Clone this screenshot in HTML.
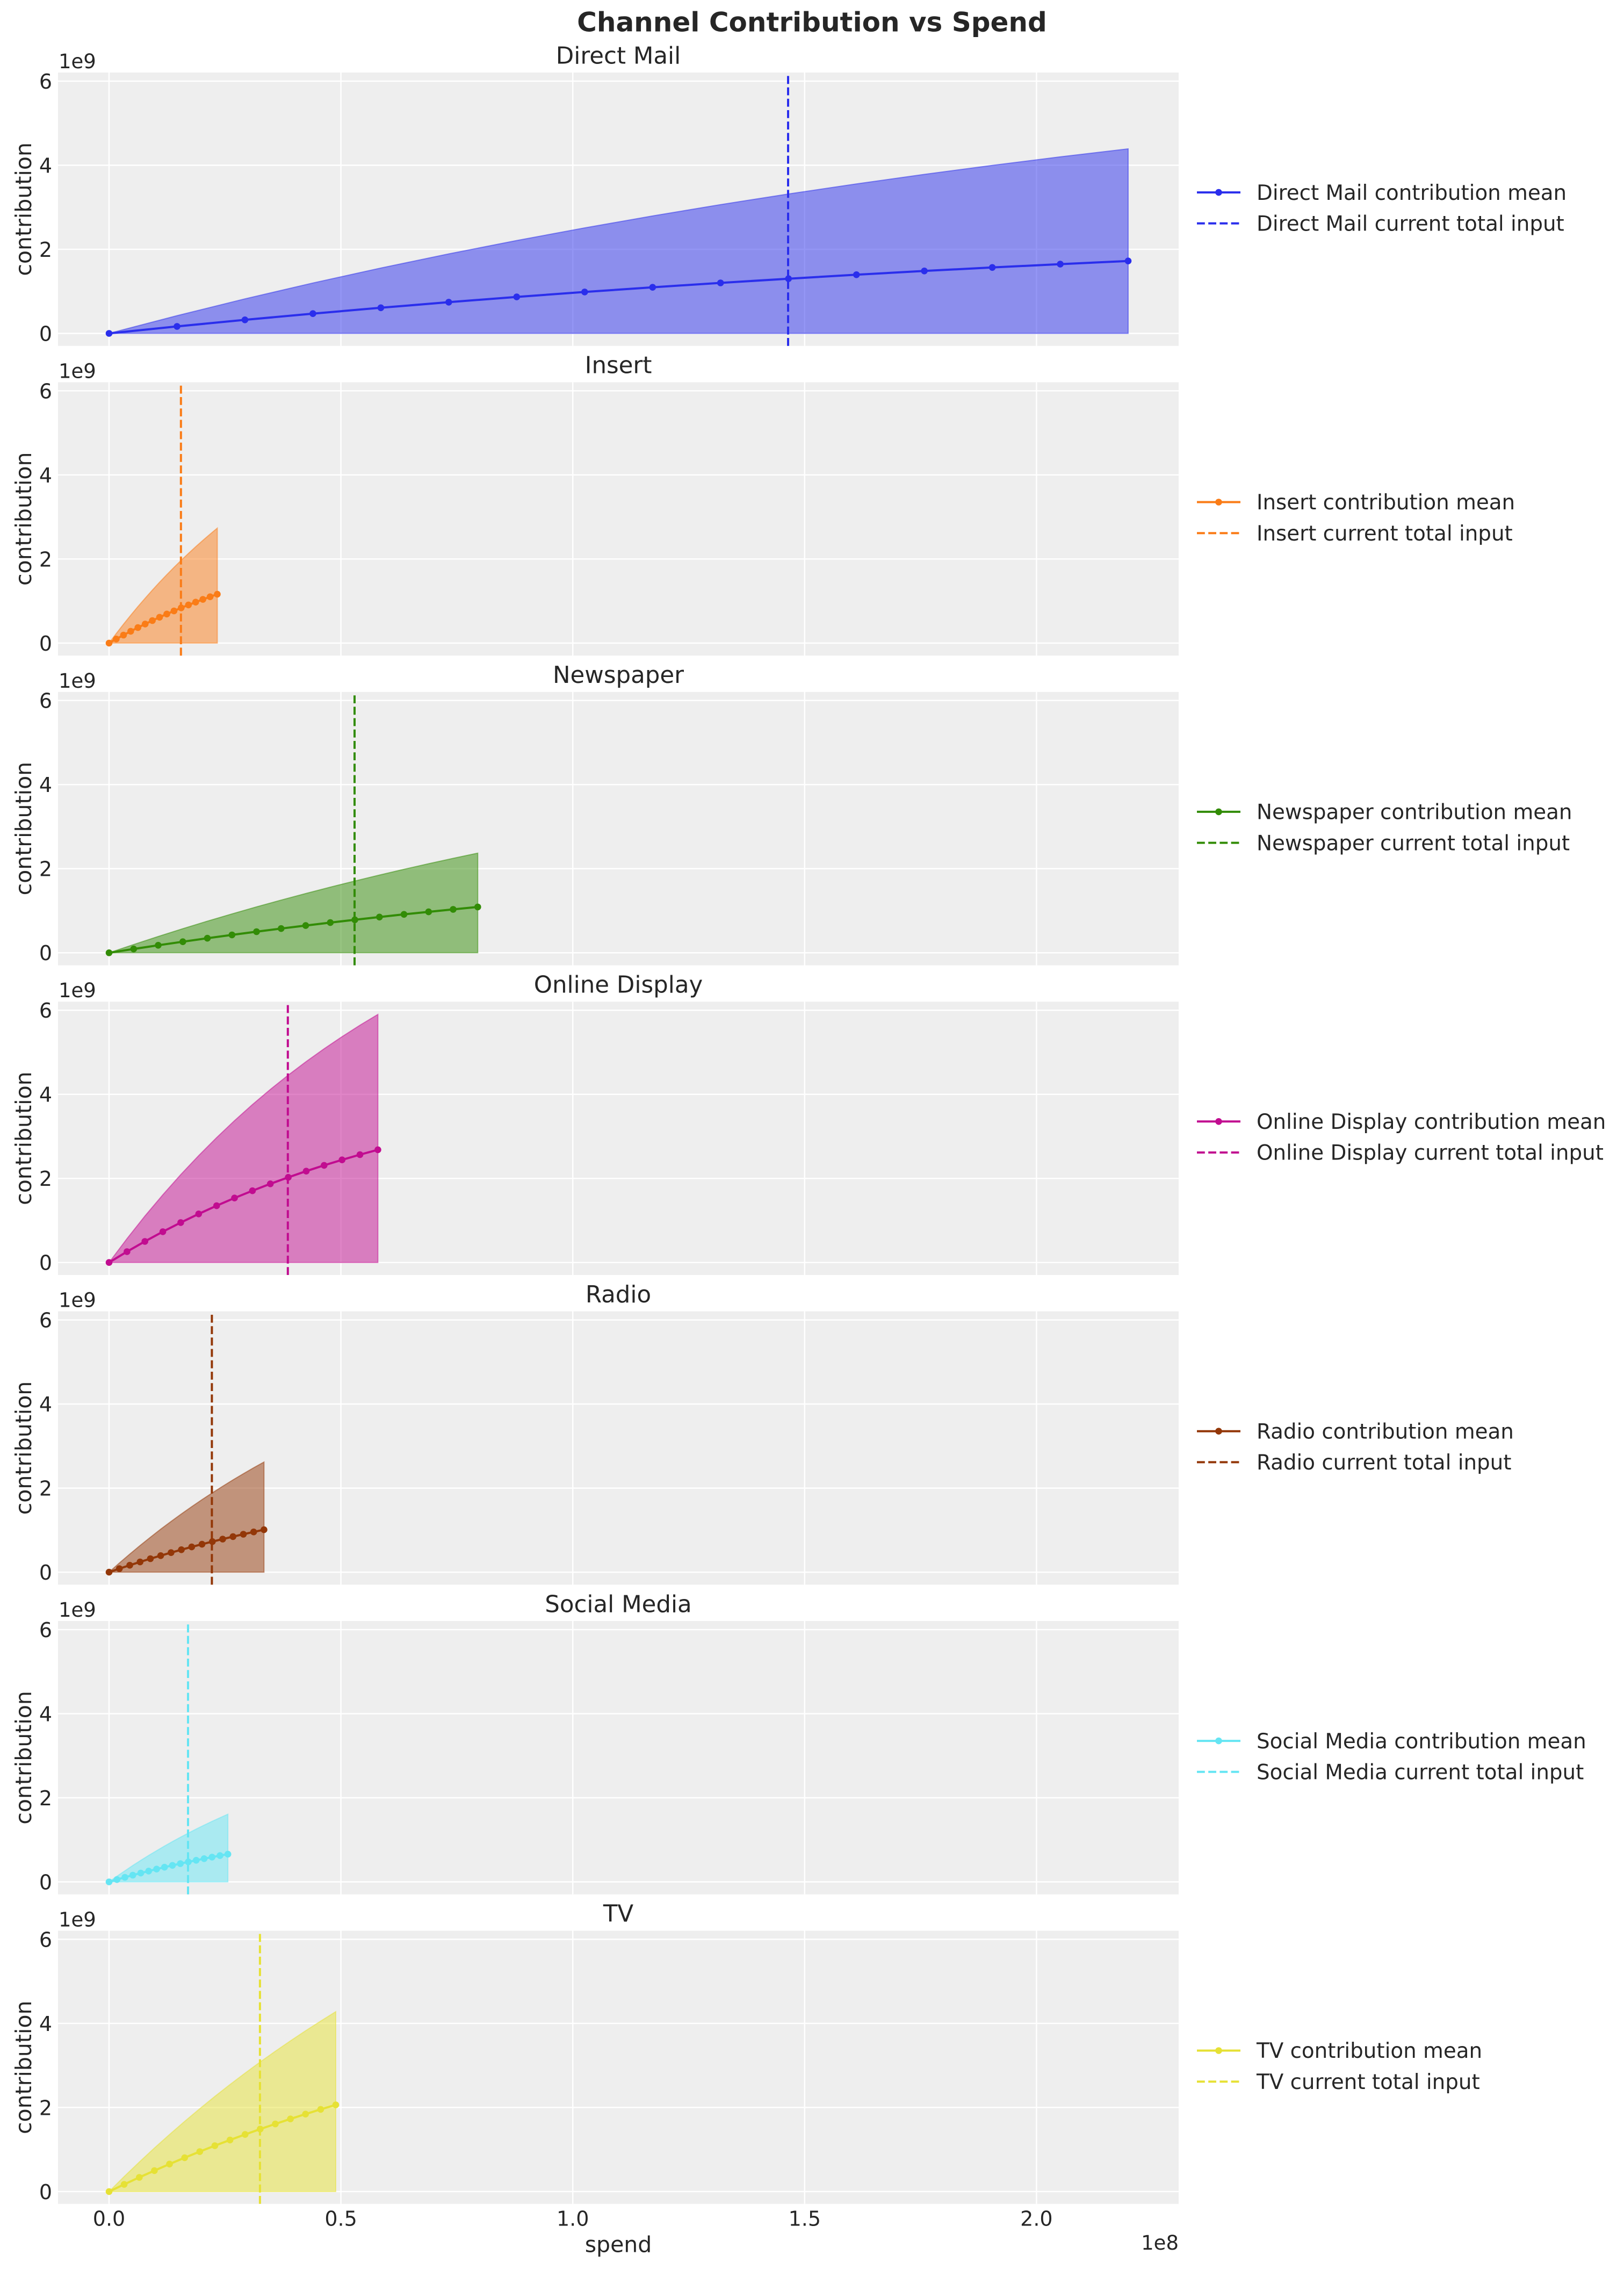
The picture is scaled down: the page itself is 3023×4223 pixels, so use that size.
<!DOCTYPE html>
<html><head><meta charset="utf-8"><style>
html,body{margin:0;padding:0;background:#fff;}
svg{display:block;}
text{font-family:"DejaVu Sans","Liberation Sans",sans-serif;fill:#262626;}
.tk{font-size:38px;}
.yt{font-size:38px;text-anchor:end;}
.xt{font-size:38px;text-anchor:middle;}
.off{font-size:37px;}
.st{font-size:43.5px;text-anchor:middle;}
.yl{font-size:41px;text-anchor:middle;}
.lg{font-size:38.8px;}
.grid line{stroke:#fff;stroke-width:2.5;}
</style></head><body>
<svg width="3023" height="4223" viewBox="0 0 3023 4223" xmlns="http://www.w3.org/2000/svg">
<rect x="0" y="0" width="3023" height="4223" fill="#fff"/>
<text x="1511.5" y="58.3" style="font-size:50px;font-weight:bold;text-anchor:middle;">Channel Contribution vs Spend</text>

<!-- ============ Axes 1: Direct Mail ============ -->
<rect x="108" y="135" width="2086" height="508.8" fill="#eeeeee"/>
<g class="grid">
<line x1="108" x2="2194" y1="620.5" y2="620.5"/><line x1="108" x2="2194" y1="464" y2="464"/><line x1="108" x2="2194" y1="307.5" y2="307.5"/><line x1="108" x2="2194" y1="151" y2="151"/>
<line y1="135" y2="643.8" x1="203" x2="203"/><line y1="135" y2="643.8" x1="634.6" x2="634.6"/><line y1="135" y2="643.8" x1="1066.2" x2="1066.2"/><line y1="135" y2="643.8" x1="1497.8" x2="1497.8"/><line y1="135" y2="643.8" x1="1929.4" x2="1929.4"/>
</g>
<polygon fill="#2a2eec" fill-opacity="0.5" stroke="#2a2eec" stroke-opacity="0.5" stroke-width="2" points="203,620.5 329.5,587.5 455.9,556.2 582.4,526.7 708.9,498.8 835.3,472.5 961.8,447.6 1088.3,424.1 1214.8,401.9 1341.2,380.8 1467.7,361.0 1594.2,342.2 1720.6,324.5 1847.1,307.8 1973.6,291.9 2100,277.0 2100,620.5"/>
<line x1="1467" x2="1467" y1="643.8" y2="135" stroke="#2a2eec" stroke-width="4" stroke-dasharray="14.8 6.4"/>
<polyline fill="none" stroke="#2a2eec" stroke-width="4" points="203,620.5 329.5,607.5 455.9,595.3 582.4,583.7 708.9,572.8 835.3,562.4 961.8,552.6 1088.3,543.4 1214.8,534.7 1341.2,526.5 1467.7,518.7 1594.2,511.3 1720.6,504.3 1847.1,497.8 1973.6,491.6 2100,485.7"/>
<g fill="#2a2eec"><circle cx="203" cy="620.5" r="6.3"/><circle cx="329.5" cy="607.5" r="6.3"/><circle cx="455.9" cy="595.3" r="6.3"/><circle cx="582.4" cy="583.7" r="6.3"/><circle cx="708.9" cy="572.8" r="6.3"/><circle cx="835.3" cy="562.4" r="6.3"/><circle cx="961.8" cy="552.6" r="6.3"/><circle cx="1088.3" cy="543.4" r="6.3"/><circle cx="1214.8" cy="534.7" r="6.3"/><circle cx="1341.2" cy="526.5" r="6.3"/><circle cx="1467.7" cy="518.7" r="6.3"/><circle cx="1594.2" cy="511.3" r="6.3"/><circle cx="1720.6" cy="504.3" r="6.3"/><circle cx="1847.1" cy="497.8" r="6.3"/><circle cx="1973.6" cy="491.6" r="6.3"/><circle cx="2100" cy="485.7" r="6.3"/></g>
<text class="yt" x="97" y="634.4">0</text><text class="yt" x="97" y="477.9">2</text><text class="yt" x="97" y="321.4">4</text><text class="yt" x="97" y="164.9">6</text>
<text class="off" x="109" y="127">1e9</text>
<text class="st" x="1151" y="118.3">Direct Mail</text>
<text class="yl" transform="translate(58,389.4) rotate(-90)">contribution</text>
<line x1="2228" x2="2309" y1="358.1" y2="358.1" stroke="#2a2eec" stroke-width="4"/><circle cx="2268.5" cy="358.1" r="6.3" fill="#2a2eec"/>
<text class="lg" x="2339" y="371.8">Direct Mail contribution mean</text>
<line x1="2228" x2="2309" y1="415.8" y2="415.8" stroke="#2a2eec" stroke-width="4" stroke-dasharray="14.8 6.4"/>
<text class="lg" x="2339" y="429.5">Direct Mail current total input</text>

<!-- ============ Axes 2: Insert ============ -->
<rect x="108" y="711.4" width="2086" height="508.8" fill="#eeeeee"/>
<g class="grid">
<line x1="108" x2="2194" y1="1196.9" y2="1196.9"/><line x1="108" x2="2194" y1="1040.4" y2="1040.4"/><line x1="108" x2="2194" y1="883.9" y2="883.9"/><line x1="108" x2="2194" y1="727.4" y2="727.4"/>
<line y1="711.4" y2="1220.2" x1="203" x2="203"/><line y1="711.4" y2="1220.2" x1="634.6" x2="634.6"/><line y1="711.4" y2="1220.2" x1="1066.2" x2="1066.2"/><line y1="711.4" y2="1220.2" x1="1497.8" x2="1497.8"/><line y1="711.4" y2="1220.2" x1="1929.4" x2="1929.4"/>
</g>
<polygon fill="#fa7c17" fill-opacity="0.5" stroke="#fa7c17" stroke-opacity="0.5" stroke-width="2" points="203,1196.9 216.4,1179.1 229.9,1161.8 243.3,1145.1 256.7,1129.0 270.2,1113.4 283.6,1098.3 297.0,1083.7 310.5,1069.6 323.9,1055.9 337.3,1042.7 350.8,1030.0 364.2,1017.6 377.6,1005.7 391.1,994.1 404.5,982.9 404.5,1196.9"/>
<line x1="336.8" x2="336.8" y1="1220.2" y2="711.4" stroke="#fa7c17" stroke-width="4" stroke-dasharray="14.8 6.4"/>
<polyline fill="none" stroke="#fa7c17" stroke-width="4" points="203,1196.9 216.4,1189.3 229.9,1182.0 243.3,1174.9 256.7,1168.0 270.2,1161.4 283.6,1155.0 297.0,1148.8 310.5,1142.8 323.9,1137.0 337.3,1131.3 350.8,1125.9 364.2,1120.7 377.6,1115.6 391.1,1110.7 404.5,1105.9"/>
<g fill="#fa7c17"><circle cx="203" cy="1196.9" r="6.3"/><circle cx="216.4" cy="1189.3" r="6.3"/><circle cx="229.9" cy="1182.0" r="6.3"/><circle cx="243.3" cy="1174.9" r="6.3"/><circle cx="256.7" cy="1168.0" r="6.3"/><circle cx="270.2" cy="1161.4" r="6.3"/><circle cx="283.6" cy="1155.0" r="6.3"/><circle cx="297.0" cy="1148.8" r="6.3"/><circle cx="310.5" cy="1142.8" r="6.3"/><circle cx="323.9" cy="1137.0" r="6.3"/><circle cx="337.3" cy="1131.3" r="6.3"/><circle cx="350.8" cy="1125.9" r="6.3"/><circle cx="364.2" cy="1120.7" r="6.3"/><circle cx="377.6" cy="1115.6" r="6.3"/><circle cx="391.1" cy="1110.7" r="6.3"/><circle cx="404.5" cy="1105.9" r="6.3"/></g>
<text class="yt" x="97" y="1210.8">0</text><text class="yt" x="97" y="1054.3">2</text><text class="yt" x="97" y="897.8">4</text><text class="yt" x="97" y="741.3">6</text>
<text class="off" x="109" y="703.4">1e9</text>
<text class="st" x="1151" y="694.7">Insert</text>
<text class="yl" transform="translate(58,965.8) rotate(-90)">contribution</text>
<line x1="2228" x2="2309" y1="934.5" y2="934.5" stroke="#fa7c17" stroke-width="4"/><circle cx="2268.5" cy="934.5" r="6.3" fill="#fa7c17"/>
<text class="lg" x="2339" y="948.2">Insert contribution mean</text>
<line x1="2228" x2="2309" y1="992.2" y2="992.2" stroke="#fa7c17" stroke-width="4" stroke-dasharray="14.8 6.4"/>
<text class="lg" x="2339" y="1005.9">Insert current total input</text>

<!-- ============ Axes 3: Newspaper ============ -->
<rect x="108" y="1287.8" width="2086" height="508.8" fill="#eeeeee"/>
<g class="grid">
<line x1="108" x2="2194" y1="1773.3" y2="1773.3"/><line x1="108" x2="2194" y1="1616.8" y2="1616.8"/><line x1="108" x2="2194" y1="1460.3" y2="1460.3"/><line x1="108" x2="2194" y1="1303.8" y2="1303.8"/>
<line y1="1287.8" y2="1796.6" x1="203" x2="203"/><line y1="1287.8" y2="1796.6" x1="634.6" x2="634.6"/><line y1="1287.8" y2="1796.6" x1="1066.2" x2="1066.2"/><line y1="1287.8" y2="1796.6" x1="1497.8" x2="1497.8"/><line y1="1287.8" y2="1796.6" x1="1929.4" x2="1929.4"/>
</g>
<polygon fill="#328c06" fill-opacity="0.5" stroke="#328c06" stroke-opacity="0.5" stroke-width="2" points="203,1773.3 248.8,1757.9 294.5,1742.9 340.3,1728.4 386.0,1714.4 431.8,1700.9 477.5,1687.8 523.3,1675.2 569.0,1663.0 614.8,1651.1 660.5,1639.7 706.3,1628.6 752.0,1617.9 797.8,1607.5 843.5,1597.5 889.3,1587.8 889.3,1773.3"/>
<line x1="660" x2="660" y1="1796.6" y2="1287.8" stroke="#328c06" stroke-width="4" stroke-dasharray="14.8 6.4"/>
<polyline fill="none" stroke="#328c06" stroke-width="4" points="203,1773.3 248.8,1766.2 294.5,1759.3 340.3,1752.7 386.0,1746.2 431.8,1740.0 477.5,1734.0 523.3,1728.2 569.0,1722.6 614.8,1717.1 660.5,1711.9 706.3,1706.8 752.0,1701.8 797.8,1697.1 843.5,1692.5 889.3,1688.0"/>
<g fill="#328c06"><circle cx="203" cy="1773.3" r="6.3"/><circle cx="248.8" cy="1766.2" r="6.3"/><circle cx="294.5" cy="1759.3" r="6.3"/><circle cx="340.3" cy="1752.7" r="6.3"/><circle cx="386.0" cy="1746.2" r="6.3"/><circle cx="431.8" cy="1740.0" r="6.3"/><circle cx="477.5" cy="1734.0" r="6.3"/><circle cx="523.3" cy="1728.2" r="6.3"/><circle cx="569.0" cy="1722.6" r="6.3"/><circle cx="614.8" cy="1717.1" r="6.3"/><circle cx="660.5" cy="1711.9" r="6.3"/><circle cx="706.3" cy="1706.8" r="6.3"/><circle cx="752.0" cy="1701.8" r="6.3"/><circle cx="797.8" cy="1697.1" r="6.3"/><circle cx="843.5" cy="1692.5" r="6.3"/><circle cx="889.3" cy="1688.0" r="6.3"/></g>
<text class="yt" x="97" y="1787.2">0</text><text class="yt" x="97" y="1630.7">2</text><text class="yt" x="97" y="1474.2">4</text><text class="yt" x="97" y="1317.7">6</text>
<text class="off" x="109" y="1279.8">1e9</text>
<text class="st" x="1151" y="1271.1">Newspaper</text>
<text class="yl" transform="translate(58,1542.2) rotate(-90)">contribution</text>
<line x1="2228" x2="2309" y1="1510.9" y2="1510.9" stroke="#328c06" stroke-width="4"/><circle cx="2268.5" cy="1510.9" r="6.3" fill="#328c06"/>
<text class="lg" x="2339" y="1524.6">Newspaper contribution mean</text>
<line x1="2228" x2="2309" y1="1568.6" y2="1568.6" stroke="#328c06" stroke-width="4" stroke-dasharray="14.8 6.4"/>
<text class="lg" x="2339" y="1582.3">Newspaper current total input</text>

<!-- ============ Axes 4: Online Display ============ -->
<rect x="108" y="1864.2" width="2086" height="508.8" fill="#eeeeee"/>
<g class="grid">
<line x1="108" x2="2194" y1="2349.7" y2="2349.7"/><line x1="108" x2="2194" y1="2193.2" y2="2193.2"/><line x1="108" x2="2194" y1="2036.7" y2="2036.7"/><line x1="108" x2="2194" y1="1880.2" y2="1880.2"/>
<line y1="1864.2" y2="2373" x1="203" x2="203"/><line y1="1864.2" y2="2373" x1="634.6" x2="634.6"/><line y1="1864.2" y2="2373" x1="1066.2" x2="1066.2"/><line y1="1864.2" y2="2373" x1="1497.8" x2="1497.8"/><line y1="1864.2" y2="2373" x1="1929.4" x2="1929.4"/>
</g>
<polygon fill="#c10c90" fill-opacity="0.5" stroke="#c10c90" stroke-opacity="0.5" stroke-width="2" points="203,2349.7 236.4,2305.3 269.7,2263.3 303.1,2223.7 336.4,2186.2 369.8,2150.8 403.2,2117.3 436.5,2085.7 469.9,2055.8 503.2,2027.6 536.6,2000.9 570.0,1975.7 603.3,1951.9 636.7,1929.4 670.0,1908.1 703.4,1888.0 703.4,2349.7"/>
<line x1="535.8" x2="535.8" y1="2373" y2="1864.2" stroke="#c10c90" stroke-width="4" stroke-dasharray="14.8 6.4"/>
<polyline fill="none" stroke="#c10c90" stroke-width="4" points="203,2349.7 236.4,2329.5 269.7,2310.5 303.1,2292.4 336.4,2275.4 369.8,2259.3 403.2,2244.1 436.5,2229.7 469.9,2216.2 503.2,2203.3 536.6,2191.2 570.0,2179.7 603.3,2168.9 636.7,2158.7 670.0,2149.0 703.4,2139.9"/>
<g fill="#c10c90"><circle cx="203" cy="2349.7" r="6.3"/><circle cx="236.4" cy="2329.5" r="6.3"/><circle cx="269.7" cy="2310.5" r="6.3"/><circle cx="303.1" cy="2292.4" r="6.3"/><circle cx="336.4" cy="2275.4" r="6.3"/><circle cx="369.8" cy="2259.3" r="6.3"/><circle cx="403.2" cy="2244.1" r="6.3"/><circle cx="436.5" cy="2229.7" r="6.3"/><circle cx="469.9" cy="2216.2" r="6.3"/><circle cx="503.2" cy="2203.3" r="6.3"/><circle cx="536.6" cy="2191.2" r="6.3"/><circle cx="570.0" cy="2179.7" r="6.3"/><circle cx="603.3" cy="2168.9" r="6.3"/><circle cx="636.7" cy="2158.7" r="6.3"/><circle cx="670.0" cy="2149.0" r="6.3"/><circle cx="703.4" cy="2139.9" r="6.3"/></g>
<text class="yt" x="97" y="2363.6">0</text><text class="yt" x="97" y="2207.1">2</text><text class="yt" x="97" y="2050.6">4</text><text class="yt" x="97" y="1894.1">6</text>
<text class="off" x="109" y="1856.2">1e9</text>
<text class="st" x="1151" y="1847.5">Online Display</text>
<text class="yl" transform="translate(58,2118.6) rotate(-90)">contribution</text>
<line x1="2228" x2="2309" y1="2087.3" y2="2087.3" stroke="#c10c90" stroke-width="4"/><circle cx="2268.5" cy="2087.3" r="6.3" fill="#c10c90"/>
<text class="lg" x="2339" y="2101">Online Display contribution mean</text>
<line x1="2228" x2="2309" y1="2145" y2="2145" stroke="#c10c90" stroke-width="4" stroke-dasharray="14.8 6.4"/>
<text class="lg" x="2339" y="2158.7">Online Display current total input</text>

<!-- ============ Axes 5: Radio ============ -->
<rect x="108" y="2440.6" width="2086" height="508.8" fill="#eeeeee"/>
<g class="grid">
<line x1="108" x2="2194" y1="2926.1" y2="2926.1"/><line x1="108" x2="2194" y1="2769.6" y2="2769.6"/><line x1="108" x2="2194" y1="2613.1" y2="2613.1"/><line x1="108" x2="2194" y1="2456.6" y2="2456.6"/>
<line y1="2440.6" y2="2949.4" x1="203" x2="203"/><line y1="2440.6" y2="2949.4" x1="634.6" x2="634.6"/><line y1="2440.6" y2="2949.4" x1="1066.2" x2="1066.2"/><line y1="2440.6" y2="2949.4" x1="1497.8" x2="1497.8"/><line y1="2440.6" y2="2949.4" x1="1929.4" x2="1929.4"/>
</g>
<polygon fill="#933708" fill-opacity="0.5" stroke="#933708" stroke-opacity="0.5" stroke-width="2" points="203,2926.1 222.2,2909.0 241.5,2892.5 260.7,2876.5 279.9,2861.1 299.1,2846.1 318.4,2831.7 337.6,2817.7 356.8,2804.2 376.0,2791.1 395.3,2778.4 414.5,2766.2 433.7,2754.3 453.0,2742.9 472.2,2731.8 491.4,2721.1 491.4,2926.1"/>
<line x1="394.4" x2="394.4" y1="2949.4" y2="2440.6" stroke="#933708" stroke-width="4" stroke-dasharray="14.8 6.4"/>
<polyline fill="none" stroke="#933708" stroke-width="4" points="203,2926.1 222.2,2919.5 241.5,2913.2 260.7,2907.0 279.9,2901.0 299.1,2895.3 318.4,2889.7 337.6,2884.3 356.8,2879.1 376.0,2874.1 395.3,2869.2 414.5,2864.5 433.7,2859.9 453.0,2855.5 472.2,2851.2 491.4,2847.1"/>
<g fill="#933708"><circle cx="203" cy="2926.1" r="6.3"/><circle cx="222.2" cy="2919.5" r="6.3"/><circle cx="241.5" cy="2913.2" r="6.3"/><circle cx="260.7" cy="2907.0" r="6.3"/><circle cx="279.9" cy="2901.0" r="6.3"/><circle cx="299.1" cy="2895.3" r="6.3"/><circle cx="318.4" cy="2889.7" r="6.3"/><circle cx="337.6" cy="2884.3" r="6.3"/><circle cx="356.8" cy="2879.1" r="6.3"/><circle cx="376.0" cy="2874.1" r="6.3"/><circle cx="395.3" cy="2869.2" r="6.3"/><circle cx="414.5" cy="2864.5" r="6.3"/><circle cx="433.7" cy="2859.9" r="6.3"/><circle cx="453.0" cy="2855.5" r="6.3"/><circle cx="472.2" cy="2851.2" r="6.3"/><circle cx="491.4" cy="2847.1" r="6.3"/></g>
<text class="yt" x="97" y="2940">0</text><text class="yt" x="97" y="2783.5">2</text><text class="yt" x="97" y="2627">4</text><text class="yt" x="97" y="2470.5">6</text>
<text class="off" x="109" y="2432.6">1e9</text>
<text class="st" x="1151" y="2423.9">Radio</text>
<text class="yl" transform="translate(58,2695) rotate(-90)">contribution</text>
<line x1="2228" x2="2309" y1="2663.7" y2="2663.7" stroke="#933708" stroke-width="4"/><circle cx="2268.5" cy="2663.7" r="6.3" fill="#933708"/>
<text class="lg" x="2339" y="2677.4">Radio contribution mean</text>
<line x1="2228" x2="2309" y1="2721.4" y2="2721.4" stroke="#933708" stroke-width="4" stroke-dasharray="14.8 6.4"/>
<text class="lg" x="2339" y="2735.1">Radio current total input</text>

<!-- ============ Axes 6: Social Media ============ -->
<rect x="108" y="3017" width="2086" height="508.8" fill="#eeeeee"/>
<g class="grid">
<line x1="108" x2="2194" y1="3502.5" y2="3502.5"/><line x1="108" x2="2194" y1="3346" y2="3346"/><line x1="108" x2="2194" y1="3189.5" y2="3189.5"/><line x1="108" x2="2194" y1="3033" y2="3033"/>
<line y1="3017" y2="3525.8" x1="203" x2="203"/><line y1="3017" y2="3525.8" x1="634.6" x2="634.6"/><line y1="3017" y2="3525.8" x1="1066.2" x2="1066.2"/><line y1="3017" y2="3525.8" x1="1497.8" x2="1497.8"/><line y1="3017" y2="3525.8" x1="1929.4" x2="1929.4"/>
</g>
<polygon fill="#65e5f3" fill-opacity="0.5" stroke="#65e5f3" stroke-opacity="0.5" stroke-width="2" points="203,3502.5 217.7,3492.0 232.5,3481.9 247.2,3472.0 262.0,3462.5 276.7,3453.3 291.5,3444.5 306.2,3435.9 321.0,3427.5 335.7,3419.5 350.5,3411.7 365.2,3404.2 380.0,3396.9 394.7,3389.9 409.5,3383.1 424.2,3376.5 424.2,3502.5"/>
<line x1="350" x2="350" y1="3525.8" y2="3017" stroke="#65e5f3" stroke-width="4" stroke-dasharray="14.8 6.4"/>
<polyline fill="none" stroke="#65e5f3" stroke-width="4" points="203,3502.5 217.7,3498.2 232.5,3494.0 247.2,3490.0 262.0,3486.1 276.7,3482.4 291.5,3478.7 306.2,3475.2 321.0,3471.8 335.7,3468.5 350.5,3465.3 365.2,3462.3 380.0,3459.3 394.7,3456.4 409.5,3453.6 424.2,3450.9"/>
<g fill="#65e5f3"><circle cx="203" cy="3502.5" r="6.3"/><circle cx="217.7" cy="3498.2" r="6.3"/><circle cx="232.5" cy="3494.0" r="6.3"/><circle cx="247.2" cy="3490.0" r="6.3"/><circle cx="262.0" cy="3486.1" r="6.3"/><circle cx="276.7" cy="3482.4" r="6.3"/><circle cx="291.5" cy="3478.7" r="6.3"/><circle cx="306.2" cy="3475.2" r="6.3"/><circle cx="321.0" cy="3471.8" r="6.3"/><circle cx="335.7" cy="3468.5" r="6.3"/><circle cx="350.5" cy="3465.3" r="6.3"/><circle cx="365.2" cy="3462.3" r="6.3"/><circle cx="380.0" cy="3459.3" r="6.3"/><circle cx="394.7" cy="3456.4" r="6.3"/><circle cx="409.5" cy="3453.6" r="6.3"/><circle cx="424.2" cy="3450.9" r="6.3"/></g>
<text class="yt" x="97" y="3516.4">0</text><text class="yt" x="97" y="3359.9">2</text><text class="yt" x="97" y="3203.4">4</text><text class="yt" x="97" y="3046.9">6</text>
<text class="off" x="109" y="3009">1e9</text>
<text class="st" x="1151" y="3000.3">Social Media</text>
<text class="yl" transform="translate(58,3271.4) rotate(-90)">contribution</text>
<line x1="2228" x2="2309" y1="3240.1" y2="3240.1" stroke="#65e5f3" stroke-width="4"/><circle cx="2268.5" cy="3240.1" r="6.3" fill="#65e5f3"/>
<text class="lg" x="2339" y="3253.8">Social Media contribution mean</text>
<line x1="2228" x2="2309" y1="3297.8" y2="3297.8" stroke="#65e5f3" stroke-width="4" stroke-dasharray="14.8 6.4"/>
<text class="lg" x="2339" y="3311.5">Social Media current total input</text>

<!-- ============ Axes 7: TV ============ -->
<rect x="108" y="3593.4" width="2086" height="508.4" fill="#eeeeee"/>
<g class="grid">
<line x1="108" x2="2194" y1="4078.9" y2="4078.9"/><line x1="108" x2="2194" y1="3922.4" y2="3922.4"/><line x1="108" x2="2194" y1="3765.9" y2="3765.9"/><line x1="108" x2="2194" y1="3609.4" y2="3609.4"/>
<line y1="3593.4" y2="4101.8" x1="203" x2="203"/><line y1="3593.4" y2="4101.8" x1="634.6" x2="634.6"/><line y1="3593.4" y2="4101.8" x1="1066.2" x2="1066.2"/><line y1="3593.4" y2="4101.8" x1="1497.8" x2="1497.8"/><line y1="3593.4" y2="4101.8" x1="1929.4" x2="1929.4"/>
</g>
<polygon fill="#e6e135" fill-opacity="0.5" stroke="#e6e135" stroke-opacity="0.5" stroke-width="2" points="203,4078.9 231.1,4051.0 259.3,4024.0 287.4,3997.9 315.5,3972.7 343.7,3948.3 371.8,3924.7 399.9,3901.8 428.1,3879.7 456.2,3858.4 484.3,3837.7 512.5,3817.7 540.6,3798.4 568.7,3779.7 596.9,3761.6 625,3744.1 625,4078.9"/>
<line x1="483.9" x2="483.9" y1="4101.8" y2="3593.4" stroke="#e6e135" stroke-width="4" stroke-dasharray="14.8 6.4"/>
<polyline fill="none" stroke="#e6e135" stroke-width="4" points="203,4078.9 231.1,4065.5 259.3,4052.5 287.4,4039.9 315.5,4027.7 343.7,4015.9 371.8,4004.5 399.9,3993.5 428.1,3982.9 456.2,3972.6 484.3,3962.6 512.5,3953.0 540.6,3943.7 568.7,3934.7 596.9,3925.9 625,3917.5"/>
<g fill="#e6e135"><circle cx="203" cy="4078.9" r="6.3"/><circle cx="231.1" cy="4065.5" r="6.3"/><circle cx="259.3" cy="4052.5" r="6.3"/><circle cx="287.4" cy="4039.9" r="6.3"/><circle cx="315.5" cy="4027.7" r="6.3"/><circle cx="343.7" cy="4015.9" r="6.3"/><circle cx="371.8" cy="4004.5" r="6.3"/><circle cx="399.9" cy="3993.5" r="6.3"/><circle cx="428.1" cy="3982.9" r="6.3"/><circle cx="456.2" cy="3972.6" r="6.3"/><circle cx="484.3" cy="3962.6" r="6.3"/><circle cx="512.5" cy="3953.0" r="6.3"/><circle cx="540.6" cy="3943.7" r="6.3"/><circle cx="568.7" cy="3934.7" r="6.3"/><circle cx="596.9" cy="3925.9" r="6.3"/><circle cx="625" cy="3917.5" r="6.3"/></g>
<text class="yt" x="97" y="4092.8">0</text><text class="yt" x="97" y="3936.3">2</text><text class="yt" x="97" y="3779.8">4</text><text class="yt" x="97" y="3623.3">6</text>
<text class="off" x="109" y="3585.4">1e9</text>
<text class="st" x="1151" y="3576.7">TV</text>
<text class="yl" transform="translate(58,3847.8) rotate(-90)">contribution</text>
<line x1="2228" x2="2309" y1="3816.5" y2="3816.5" stroke="#e6e135" stroke-width="4"/><circle cx="2268.5" cy="3816.5" r="6.3" fill="#e6e135"/>
<text class="lg" x="2339" y="3830.2">TV contribution mean</text>
<line x1="2228" x2="2309" y1="3874.2" y2="3874.2" stroke="#e6e135" stroke-width="4" stroke-dasharray="14.8 6.4"/>
<text class="lg" x="2339" y="3887.9">TV current total input</text>

<!-- x axis ticks (shared) -->
<text class="xt" x="203" y="4142.7">0.0</text>
<text class="xt" x="634.6" y="4142.7">0.5</text>
<text class="xt" x="1066.2" y="4142.7">1.0</text>
<text class="xt" x="1497.8" y="4142.7">1.5</text>
<text class="xt" x="1929.4" y="4142.7">2.0</text>
<text x="1151" y="4191.5" style="font-size:41px;text-anchor:middle;">spend</text>
<text class="off" x="2194" y="4187" style="text-anchor:end;">1e8</text>
</svg>
</body></html>
